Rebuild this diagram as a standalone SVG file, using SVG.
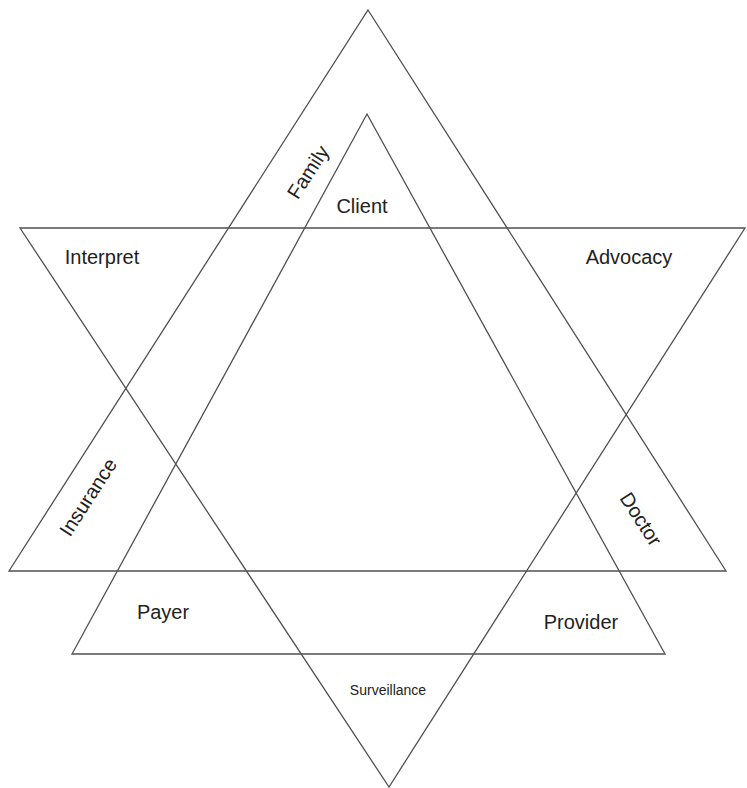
<svg xmlns="http://www.w3.org/2000/svg" width="747" height="788" viewBox="0 0 747 788">
<style>
.tri{fill:none;stroke:#505050;stroke-width:1.3;stroke-linejoin:miter}
.t{font-family:"Liberation Sans",Arial,sans-serif;font-size:20px;fill:#222;text-anchor:middle}
.r{dominant-baseline:central}
.s{font-size:14px}
</style>
<rect width="747" height="788" fill="#fff"/>
<g id="connectors">
<polygon id="outer-up" class="tri" points="368,10 726,571 9,571"/>
<polygon id="inner-up" class="tri" points="367,114 665,654 72,654"/>
<polygon id="down" class="tri" points="20,228 745,228 389,787"/>
</g>
<g id="family"><text class="t r" transform="translate(308,172) rotate(-57)">Family</text></g>
<g id="client"><text class="t" x="362" y="213">Client</text></g>
<g id="interpret"><text class="t" x="102" y="264">Interpret</text></g>
<g id="advocacy"><text class="t" x="629" y="264">Advocacy</text></g>
<g id="insurance"><text class="t r" transform="translate(88,497) rotate(-57)">Insurance</text></g>
<g id="doctor"><text class="t r" transform="translate(641,519) rotate(57)">Doctor</text></g>
<g id="payer"><text class="t" x="163" y="619">Payer</text></g>
<g id="provider"><text class="t" x="581" y="629">Provider</text></g>
<g id="surveillance"><text class="t s" x="388" y="695">Surveillance</text></g>
</svg>
